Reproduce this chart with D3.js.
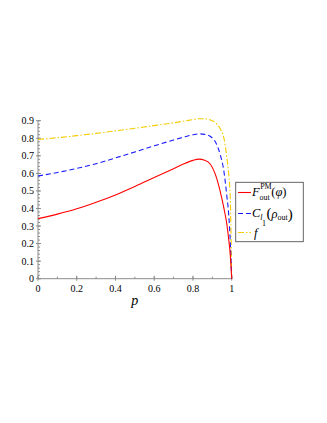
<!DOCTYPE html>
<html>
<head>
<meta charset="utf-8">
<script src="https://cdn.jsdelivr.net/npm/d3@7"></script>
<style>
  body { margin: 0; background: #fff; }
</style>
</head>
<body>
<svg id="chart" width="327" height="423" font-family="'Liberation Serif', 'Times New Roman', serif"></svg>
<script>
// values
var pValues = [0, 0.1, 0.2, 0.3, 0.4, 0.5, 0.6, 0.7, 0.75, 0.8, 0.83, 0.86, 0.89, 0.92, 0.94, 0.96, 0.975, 0.985, 0.993, 1];
var fPM = [0.342, 0.368, 0.398, 0.435, 0.477, 0.525, 0.576, 0.627, 0.653, 0.674, 0.681, 0.675, 0.652, 0.58, 0.50, 0.40, 0.31, 0.22, 0.13, 0];
var cl1 = [0.585, 0.605, 0.628, 0.655, 0.688, 0.722, 0.757, 0.79, 0.806, 0.82, 0.825, 0.822, 0.81, 0.77, 0.71, 0.61, 0.47, 0.36, 0.2, 0];
var fid = [0.794, 0.803, 0.815, 0.828, 0.842, 0.857, 0.872, 0.888, 0.897, 0.906, 0.911, 0.911, 0.904, 0.885, 0.855, 0.80, 0.69, 0.59, 0.45, 0];
var xTicks = [0, 0.2, 0.4, 0.6, 0.8, 1];
var yTicks = [0, 0.1, 0.2, 0.3, 0.4, 0.5, 0.6, 0.7, 0.8, 0.9];

var svg = d3.select("#chart");
var x = d3.scaleLinear().domain([0, 1]).range([38, 231.7]);
var y = d3.scaleLinear().domain([0, 0.9]).range([278.7, 120.7]);
var axisColor = "#8c8c8c";

// axes
var gx = svg.append("g").attr("transform", "translate(0,278.7)");
gx.append("line").attr("x1", x(0)).attr("x2", x(1)).attr("stroke", axisColor);
gx.selectAll(".minor").data(d3.range(0, 1.001, 0.1)).join("line")
  .attr("x1", d => x(d)).attr("x2", d => x(d)).attr("y1", 0).attr("y2", -2)
  .attr("stroke", axisColor);
gx.selectAll(".major").data(xTicks).join("line")
  .attr("x1", d => x(d)).attr("x2", d => x(d)).attr("y1", 2).attr("y2", -3)
  .attr("stroke", axisColor);
gx.selectAll("text").data(xTicks).join("text")
  .attr("x", d => x(d)).attr("y", 13).attr("text-anchor", "middle")
  .attr("font-size", 10).text(d => d3.format("")(d));

var gy = svg.append("g").attr("transform", "translate(38,0)");
gy.append("line").attr("y1", y(0)).attr("y2", y(0.9)).attr("stroke", axisColor);
gy.selectAll(".minor").data(d3.range(0, 0.901, 0.02)).join("line")
  .attr("y1", d => y(d)).attr("y2", d => y(d)).attr("x1", 0).attr("x2", 2)
  .attr("stroke", axisColor);
gy.selectAll(".major").data(yTicks).join("line")
  .attr("y1", d => y(d)).attr("y2", d => y(d)).attr("x1", -2).attr("x2", 3)
  .attr("stroke", axisColor);
gy.selectAll("text").data(yTicks).join("text")
  .attr("x", -4).attr("y", d => y(d) + 3.5).attr("text-anchor", "end")
  .attr("font-size", 10).text(d => d3.format("")(d));

svg.append("text").attr("x", x(0.5)).attr("y", 305).attr("text-anchor", "middle")
  .attr("font-size", 14).attr("font-style", "italic").text("p");

// curves
var line = d3.line().curve(d3.curveMonotoneX);
function draw(vals, color, dash) {
  svg.append("path")
    .attr("d", line(pValues.map((p, i) => [x(p), y(vals[i])])))
    .attr("fill", "none").attr("stroke", color).attr("stroke-width", 1.1)
    .attr("stroke-dasharray", dash);
}
draw(fid, "#f5cc00", "6,2,1.5,2");
draw(cl1, "#1a1aff", "5,3");
draw(fPM, "#ff0000", null);

// legend
var lg = svg.append("g");
lg.append("rect").attr("x", 235.7).attr("y", 182.3).attr("width", 67.6).attr("height", 59.4)
  .attr("fill", "#fff").attr("stroke", "#555").attr("stroke-width", 0.9);
lg.append("line").attr("x1", 238).attr("x2", 251).attr("y1", 192.5).attr("y2", 192.5)
  .attr("stroke", "#ff0000").attr("stroke-width", 1.1);
lg.append("line").attr("x1", 238).attr("x2", 251).attr("y1", 213.5).attr("y2", 213.5)
  .attr("stroke", "#1a1aff").attr("stroke-width", 1.1).attr("stroke-dasharray", "5,3");
lg.append("line").attr("x1", 238).attr("x2", 251).attr("y1", 232.5).attr("y2", 232.5)
  .attr("stroke", "#f5cc00").attr("stroke-width", 1.1).attr("stroke-dasharray", "6,2,1.5,2");

var t1 = lg.append("text").attr("x", 252).attr("y", 196).attr("font-size", 12.5);
t1.append("tspan").attr("font-style", "italic").text("F");
t1.append("tspan").attr("font-size", 8).attr("dy", -7).attr("dx", 0.5).text("PM");
t1.append("tspan").attr("font-size", 8).attr("x", 259.5).attr("dy", 10.5).text("out");
t1.append("tspan").attr("dy", -3.5).attr("dx", 1.5).text("(");
t1.append("tspan").attr("font-style", "italic").text("φ");
t1.append("tspan").text(")");

var t2 = lg.append("text").attr("x", 252).attr("y", 217).attr("font-size", 12.5);
t2.append("tspan").attr("font-style", "italic").text("C");
t2.append("tspan").attr("font-size", 8).attr("font-style", "italic").attr("dy", 2.5).text("l");
t2.append("tspan").attr("font-size", 8).attr("x", 262).attr("dy", 6.5).text("1");
t2.append("tspan").attr("font-size", 15).attr("dy", -8).attr("dx", 0.5).text("(");
t2.append("tspan").attr("font-style", "italic").attr("dy", -0.5).text("ρ");
t2.append("tspan").attr("font-size", 8).attr("dy", 2.5).text("out");
t2.append("tspan").attr("font-size", 15).attr("dy", -1.5).text(")");

lg.append("text").attr("x", 254).attr("y", 237).attr("font-size", 12.5)
  .attr("font-style", "italic").text("f");
</script>
</body>
</html>
